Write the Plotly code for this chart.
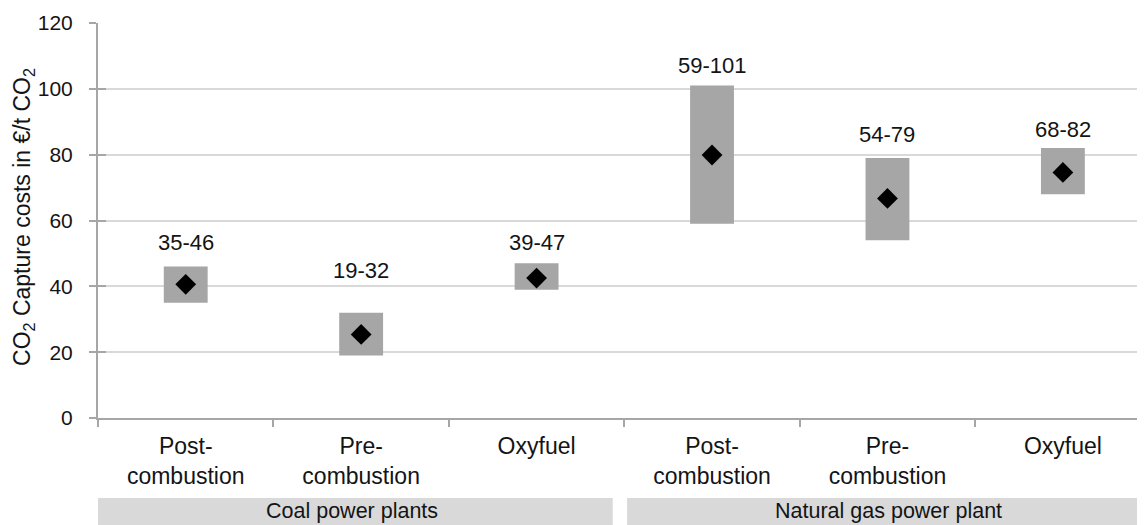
import plotly.graph_objects as go

# ---- data ----
categories = ["Post-<br>combustion", "Pre-<br>combustion", "Oxyfuel",
              "Post-<br>combustion", "Pre-<br>combustion", "Oxyfuel"]
groups = ["Coal power plants", "Natural gas power plant"]
group_first = [0, 3]
group_last = [2, 5]
low = [35, 19, 39, 59, 54, 68]
high = [46, 32, 47, 101, 79, 82]
mean = [40.6, 25.4, 42.5, 79.9, 66.7, 74.6]
y_ticks = [0, 20, 40, 60, 80, 100, 120]

# ---- style ----
FONT = "Liberation Sans, Arial, sans-serif"
TXT = "#141414"
AXIS = "#a6a6a6"
GRID = "#d9d9d9"
BAR = "#a6a6a6"
BAND = "#d9d9d9"
label_shift = [24, 42, 21, 20, 23, 19]   # px above the bar top
band_pad_left = [0.034, -0.016]
band_pad_right = [0.066, -0.6]

xs = list(range(len(categories)))
range_labels = [f"{l}-{h}" for l, h in zip(low, high)]

fig = go.Figure()
fig.add_trace(go.Bar(
    x=xs, y=[h - l for l, h in zip(low, high)], base=low,
    width=0.25, marker=dict(color=BAR, line=dict(width=0)),
    hoverinfo="skip",
))
fig.add_trace(go.Scatter(
    x=xs, y=mean, mode="markers",
    marker=dict(symbol="diamond", size=16, color="black"),
    hoverinfo="skip",
))

annotations = []
for i, t in enumerate(range_labels):
    annotations.append(dict(
        x=xs[i], y=high[i], xref="x", yref="y", text=t, showarrow=False,
        yanchor="middle", xanchor="center", yshift=label_shift[i],
        font=dict(family=FONT, size=22, color=TXT),
    ))

shapes = []
for g, name in enumerate(groups):
    x0 = group_first[g] - 0.5 - band_pad_left[g]
    x1 = group_last[g] + 0.5 - band_pad_right[g]
    shapes.append(dict(
        type="rect", xref="x", yref="paper", x0=x0, x1=x1,
        y0=-0.2025, y1=-0.40, fillcolor=BAND, line=dict(width=0),
        layer="below",
    ))
    cx = (x0 + min(x1, 5.5)) / 2
    annotations.append(dict(
        x=cx, y=-0.236, xref="x", yref="paper", text=name, showarrow=False,
        yanchor="middle", xanchor="center",
        font=dict(family=FONT, size=21.5, color=TXT),
    ))

annotations.append(dict(
    x=-0.0707, y=0.509, xref="paper", yref="paper",
    text="CO<sub>2</sub> Capture costs in €/t CO<sub>2</sub>",
    textangle=-90, showarrow=False, xanchor="center", yanchor="middle",
    font=dict(family=FONT, size=23, color=TXT),
))

# the page body adds an 8 px offset, so the figure is 8 px smaller
fig.update_layout(
    width=1137, height=517,
    margin=dict(l=90, r=0, t=15, b=107),
    paper_bgcolor="white", plot_bgcolor="white",
    showlegend=False,
    annotations=annotations, shapes=shapes,
    xaxis=dict(
        range=[-0.5, 5.468], tickmode="array", tickvals=xs, ticktext=categories,
        ticks="", showline=True, linecolor=AXIS, linewidth=2,
        showgrid=False, zeroline=False, automargin=False,
        tickfont=dict(family=FONT, size=23, color=TXT),
        ticklabelstandoff=6,
        minor=dict(tickmode="array", tickvals=[x - 0.5 for x in xs] + [5.5],
                   ticks="outside", ticklen=7, tickcolor=AXIS, tickwidth=2,
                   showgrid=False),
    ),
    yaxis=dict(
        range=[0, 120], tickmode="array", tickvals=y_ticks,
        ticks="outside", ticklen=7, tickcolor=AXIS, tickwidth=2,
        showline=True, linecolor=AXIS, linewidth=2,
        showgrid=False, zeroline=False, automargin=False,
        tickfont=dict(family=FONT, size=21, color=TXT),
        ticklabelstandoff=12,
        minor=dict(tickmode="array", tickvals=y_ticks[1:-1],
                   ticks="inside", ticklen=8, tickcolor=AXIS, tickwidth=2,
                   showgrid=True, gridcolor=GRID, gridwidth=2),
    ),
)

fig.write_html("out.html")
